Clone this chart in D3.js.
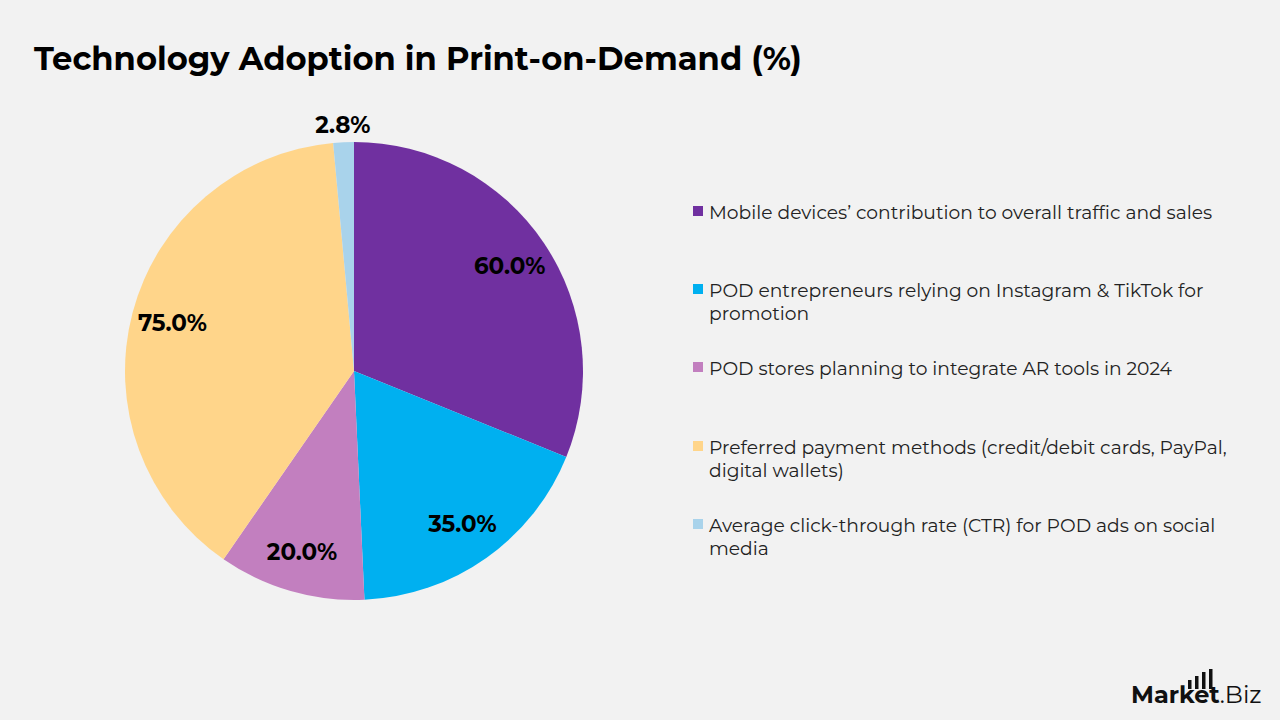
<!DOCTYPE html>
<html>
<head>
<meta charset="utf-8">
<script src="https://cdn.jsdelivr.net/npm/d3@7"></script>
<style>
  html, body { margin: 0; padding: 0; background: #F2F2F2; }
  svg { display: block; }
</style>
</head>
<body>
<svg id="chart" width="1280" height="720"></svg>
<script>
const title = "Technology Adoption in Print-on-Demand (%)";
const categories = [
  "Mobile devices’ contribution to overall traffic and sales",
  "POD entrepreneurs relying on Instagram & TikTok for promotion",
  "POD stores planning to integrate AR tools in 2024",
  "Preferred payment methods (credit/debit cards, PayPal, digital wallets)",
  "Average click-through rate (CTR) for POD ads on social media"
];
const legendLines = [
  ["Mobile devices’ contribution to overall traffic and sales"],
  ["POD entrepreneurs relying on Instagram & TikTok for", "promotion"],
  ["POD stores planning to integrate AR tools in 2024"],
  ["Preferred payment methods (credit/debit cards, PayPal,", "digital wallets)"],
  ["Average click-through rate (CTR) for POD ads on social", "media"]
];
const values = [60.0, 35.0, 20.0, 75.0, 2.8];
const colors = ["#7030A0", "#00B0F0", "#C27FBF", "#FFD58A", "#A9D3EB"];

const FONT = "Montserrat, 'Open Sans', 'Noto Sans', sans-serif";
const svg = d3.select("#chart");

svg.append("rect").attr("width", 1280).attr("height", 720).attr("fill", "#F2F2F2");

svg.append("text")
  .attr("x", 34).attr("y", 70)
  .attr("font-family", FONT)
  .attr("font-weight", 700)
  .attr("font-size", 32.2)
  .attr("fill", "#000")
  .text(title);

const cx = 354, cy = 371, R = 229;
const pie = d3.pie().sort(null).value(d => d)(values);
const arc = d3.arc().innerRadius(0).outerRadius(R);
const labelArc = d3.arc().innerRadius(R * 0.82).outerRadius(R * 0.82);
const outerArc = d3.arc().innerRadius(R + 17).outerRadius(R + 17);

const g = svg.append("g").attr("transform", `translate(${cx},${cy})`);
g.selectAll("path.slice")
  .data(pie)
  .join("path")
  .attr("class", "slice")
  .attr("d", arc)
  .attr("fill", (d, i) => colors[i]);

g.selectAll("text.lbl")
  .data(pie)
  .join("text")
  .attr("class", "lbl")
  .attr("transform", d => {
    const small = (d.endAngle - d.startAngle) < 0.2;
    const p = small ? outerArc.centroid(d) : labelArc.centroid(d);
    return `translate(${p[0]},${p[1]})`;
  })
  .attr("text-anchor", "middle")
  .attr("dy", "0.35em")
  .attr("font-family", FONT)
  .attr("font-weight", 700)
  .attr("font-size", 23)
  .attr("fill", "#000")
  .text(d => d.data.toFixed(1) + "%");

// Legend
const legendY = [212, 290, 368, 447, 525];
const lg = svg.append("g");
legendLines.forEach((lines, i) => {
  const y = legendY[i];
  lg.append("rect")
    .attr("x", 693).attr("y", y - 6)
    .attr("width", 10).attr("height", 10)
    .attr("fill", colors[i]);
  const t = lg.append("text")
    .attr("x", 709).attr("y", y)
    .attr("font-family", FONT)
    .attr("font-size", 18.7)
    .attr("fill", "#222");
  lines.forEach((ln, j) => {
    t.append("tspan").attr("x", 709).attr("dy", j === 0 ? "0.35em" : 23).text(ln);
  });
});

// Logo
const logo = svg.append("g");
const lt = logo.append("text")
  .attr("x", 1131).attr("y", 703)
  .attr("font-family", FONT)
  .attr("font-size", 24)
  .attr("fill", "#111");
lt.append("tspan").attr("font-weight", 700).text("Market");
lt.append("tspan").attr("font-weight", 400).text(".Biz");
const bars = [[1188, 680], [1195, 676], [1202, 672], [1209, 669]];
bars.forEach(b => {
  logo.append("rect").attr("x", b[0]).attr("y", b[1]).attr("width", 3.5).attr("height", 689 - b[1]).attr("fill", "#111");
});
</script>
</body>
</html>
